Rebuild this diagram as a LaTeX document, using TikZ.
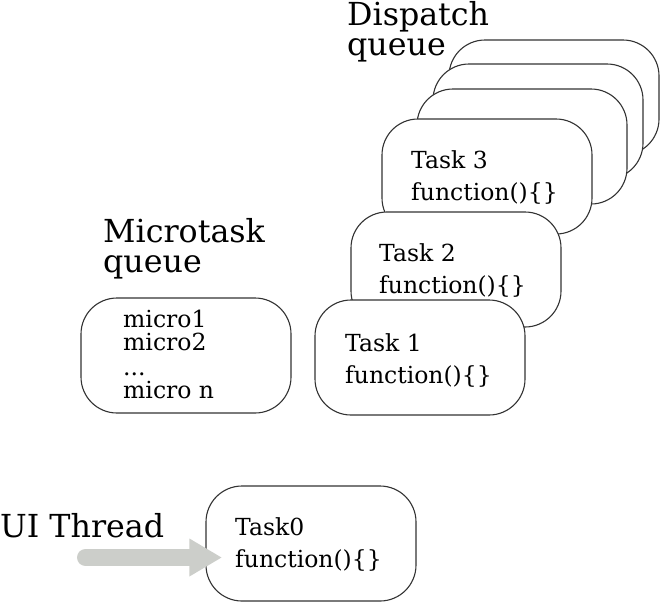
\documentclass[tikz,border=0pt]{standalone}
\usepackage{fontspec}
\setmainfont{DejaVu Serif}
\definecolor{arrowgray}{RGB}{204,206,202}
\definecolor{edgegray}{RGB}{51,51,51}
\tikzset{
  qbox/.style={draw=edgegray, line width=1.1pt, fill=white, rounded corners=36pt,
    minimum width=210pt, minimum height=115pt, inner sep=0pt, rectangle},
  title/.style={anchor=base west, inner sep=0pt, font=\fontsize{31.7}{31.7}\selectfont},
  tasktext/.style={anchor=base west, inner sep=0pt, font=\fontsize{23.5}{23.5}\selectfont},
  microtext/.style={anchor=base west, inner sep=0pt, font=\fontsize{23.5}{23.5}\selectfont},
  uibar/.style={draw=arrowgray, line width=17pt, line cap=round},
  uihead/.style={fill=arrowgray},
}
\begin{document}
\begin{tikzpicture}[x=1pt,y=-1pt]
\useasboundingbox (0,0) rectangle (660,603);
% dispatch queue stack
\node[qbox] (b1) at (554,97.5) {};
\node[qbox] (b2) at (538,121.5) {};
\node[qbox] (b3) at (522,146.5) {};
\node[qbox] (t3box) at (487,176.5) {};
\node[tasktext] (t3a) at (411,168) {Task 3};
\node[tasktext] (t3b) at (411,200) {function()\{\}};
\node[qbox] (t2box) at (456,269.5) {};
\node[tasktext] (t2a) at (379,261) {Task 2};
\node[tasktext] (t2b) at (379,293) {function()\{\}};
\node[qbox] (t1box) at (420,357.5) {};
\node[tasktext] (t1a) at (345,351) {Task 1};
\node[tasktext] (t1b) at (345,383) {function()\{\}};
\node[title] (dq1) at (347,25) {Dispatch};
\node[title] (dq2) at (347,55) {queue};
% microtask queue
\node[title] (mq1) at (103,242) {Microtask};
\node[title] (mq2) at (103,272) {queue};
\node[qbox] (mbox) at (186,355.5) {};
\node[microtext] (m1) at (123,327) {micro1};
\node[microtext] (m2) at (123,350) {micro2};
\node[microtext] (m3) at (123,375) {...};
\node[microtext] (m4) at (123,398) {micro n};
% UI thread
\node[title] (ui) at (0,537) {UI Thread};
\node[qbox] (t0box) at (311,543.5) {};
\node[tasktext] (t0a) at (235,535) {Task0};
\node[tasktext] (t0b) at (235,567) {function()\{\}};
\coordinate (uistart) at (85.5,557.5);
\coordinate (uitip) at ([xshift=16pt]t0box.west |- uistart);
\coordinate (uibase) at ([xshift=-32pt]uitip);
\draw[uibar] (uistart) -- (uibase);
\fill[uihead] ([yshift=-19pt]uibase) -- (uitip) -- ([yshift=19pt]uibase) -- cycle;
\end{tikzpicture}
\end{document}
